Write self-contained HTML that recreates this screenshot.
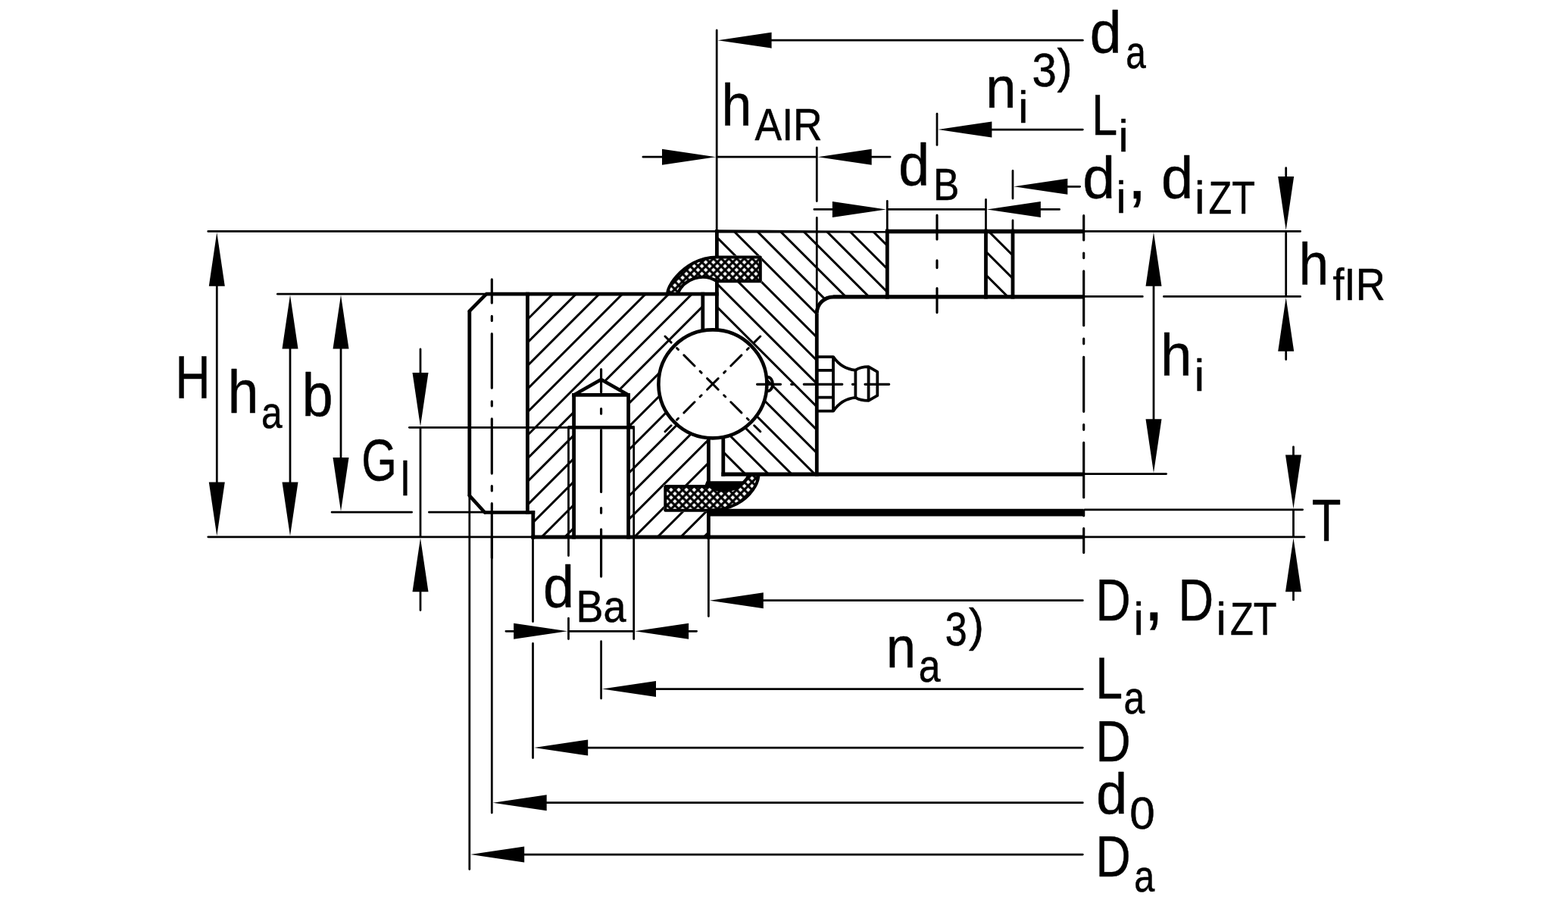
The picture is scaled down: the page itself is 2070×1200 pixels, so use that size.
<!DOCTYPE html>
<html lang="en">
<head>
<meta charset="utf-8">
<title>Slewing ring dimension drawing</title>
<style>
html,body{margin:0;padding:0;background:#fff;}
body{width:2070px;height:1200px;overflow:hidden;}
svg{display:block;}
svg *{stroke:#000;fill:none;}
svg .f{fill:#000;stroke:none;}
svg .w{fill:#fff;stroke:none;}
svg text,svg tspan{fill:#000;stroke:#000;stroke-width:0.5px;stroke-linejoin:round;font-family:"Liberation Sans",sans-serif;}
</style>
</head>
<body>
<svg xmlns="http://www.w3.org/2000/svg" width="2070" height="1200" viewBox="0 0 2070 1200">
<defs>
<clipPath id="co"><path d="M696.4 388.2H927.8V436.61A71.5 71.5 0 0 0 935.4 578.19V640H876.3V675.8H935.4V708.8H829.6V521.4L793.6 501L757.6 521.4V708.8H703.8V676.5H696.4Z"/></clipPath>
<clipPath id="ci"><path d="M946.4 305.4H1171.3V391.4H1100A21.7 21.7 0 0 0 1078.3 413.1V625.6H954.8V577.04A71.5 71.5 0 0 0 946.4 435.61V373H1005.8V337.5H946.4ZM1301.5 305.4H1337.0V391.4H1301.5Z"/></clipPath>
<pattern id="xh" width="7.2" height="7.2" patternUnits="userSpaceOnUse" patternTransform="rotate(45 0 0)"><rect class="f" x="0" y="0" width="7.2" height="7.2"/><rect class="w" x="1.55" y="1.55" width="4.1" height="4.1"/></pattern>
<clipPath id="cts"><rect x="860" y="320" width="160" height="68.2"/></clipPath>
<clipPath id="cbs"><rect x="860" y="625.6" width="160" height="70"/></clipPath>
</defs>
<g clip-path="url(#co)">
<path d="M615.60 380L280.60 715M646.20 380L311.20 715M676.80 380L341.80 715M707.40 380L372.40 715M738.00 380L403.00 715M768.60 380L433.60 715M799.20 380L464.20 715M829.80 380L494.80 715M860.40 380L525.40 715M891.00 380L556.00 715M921.60 380L586.60 715M952.20 380L617.20 715M982.80 380L647.80 715M1013.40 380L678.40 715M1044.00 380L709.00 715M1074.60 380L739.60 715M1105.20 380L770.20 715M1135.80 380L800.80 715M1166.40 380L831.40 715M1197.00 380L862.00 715M1227.60 380L892.60 715M1258.20 380L923.20 715M1288.80 380L953.80 715M1319.40 380L984.40 715" stroke-width="3.0"/>
</g>
<g clip-path="url(#ci)">
<path d="M596.94 300L926.94 630M627.50 300L957.50 630M658.06 300L988.06 630M688.62 300L1018.62 630M719.18 300L1049.18 630M749.74 300L1079.74 630M780.30 300L1110.30 630M810.86 300L1140.86 630M841.42 300L1171.42 630M871.98 300L1201.98 630M902.54 300L1232.54 630M933.10 300L1263.10 630M963.66 300L1293.66 630M994.22 300L1324.22 630M1024.78 300L1354.78 630M1055.34 300L1385.34 630M1085.90 300L1415.90 630M1116.46 300L1446.46 630M1147.02 300L1477.02 630M1177.58 300L1507.58 630M1208.14 300L1538.14 630M1238.70 300L1568.70 630M1269.26 300L1599.26 630M1299.82 300L1629.82 630M1330.38 300L1660.38 630M1360.94 300L1690.94 630M1391.50 300L1721.50 630" stroke-width="3.0"/>
</g>
<path d="M946.4 339.5C899.2 339.5 873.1 389.7 883.5 390L894.4 390V388A35.8 35.8 0 0 1 946.4 371.3H1003.8V339.5Z" clip-path="url(#cts)" style="fill:url(#xh)" stroke-width="4.0" stroke-linejoin="round"/>
<path d="M878.3 642V673.8H935.4C996.7 673.8 1009 619 997.5 623L989.5 623V625A35.8 35.8 0 0 1 937.4 642Z" clip-path="url(#cbs)" style="fill:url(#xh)" stroke-width="4.0" stroke-linejoin="round"/>
<path class="f" d="M930 642L932.5 635.2H983.2A35.8 35.8 0 0 1 937.4 642Z"/>
<g stroke-width="4.6" stroke-linejoin="round" stroke-linecap="round">
<path d="M642 388.2L619.8 410.6M619.8 654.4L640 676.5"/>
<path d="M757.6 521.4L793.6 501L829.6 521.4"/>
<path d="M1100 391.9A21.7 21.7 0 0 0 1078.3 413.6" stroke-width="5" stroke-linecap="butt"/>
<circle cx="940.9" cy="506.9" r="71.5"/>
</g>
<path d="M642.00 388.20H948.80" stroke-width="4.8" stroke-linecap="butt"/>
<path d="M640.00 676.50H706.20" stroke-width="4.3" stroke-linecap="butt"/>
<path d="M701.40 708.95H1430.70" stroke-width="4.9" stroke-linecap="butt"/>
<path d="M1168.90 305.55H1430.70" stroke-width="5.4" stroke-linecap="butt"/>
<path d="M1100.00 391.90H1430.70" stroke-width="5.2" stroke-linecap="butt"/>
<path d="M952.40 626.15H1430.70" stroke-width="5.3" stroke-linecap="butt"/>
<path d="M755.20 521.40H832.00" stroke-width="4.6" stroke-linecap="butt"/>
<path d="M749.50 564.30H837.70" stroke-width="4.6" stroke-linecap="butt"/>
<path d="M619.80 410.60V654.40M696.40 385.80V678.65M703.80 674.35V711.40M927.80 385.80V437.61M935.40 577.19V642.00M935.40 673.80V711.40M757.60 519.10V711.40M829.60 519.10V711.40M946.40 303.20V339.50M946.40 371.30V436.61M954.80 576.04V628.80M1078.30 413.60V628.80M1171.30 302.85V394.50M1301.50 302.85V394.50M1337.00 302.85V394.50" stroke-width="4.8" stroke-linecap="butt"/>
<path class="f" d="M944.0 303.2L1171.3 305.0V307.6H944.0Z"/>
<g stroke-linecap="butt">
<path d="M935.4 674.05H1430.7M935.4 678.95H1430.7" stroke-width="4.85"/>
</g>
<g stroke-width="3.8" stroke-linejoin="round" stroke-linecap="butt">
<path d="M1078.3 471.1H1100.05V542.6H1078.3M1079 488.8H1100M1079 524.6H1100"/>
<path d="M1100.05 471.1C1107 481 1116 487.5 1129.4 488.6C1134 485.5 1140 484.2 1146.6 484.2L1158.3 490.8V522.2L1146.6 528.9C1140 528.9 1134 527.6 1129.4 524.8C1116 526 1107 532.5 1100.05 542.6"/>
<path d="M1129.4 488.6V524.8M1146.6 484.2V528.9"/>
<path d="M1013.3 497.6A6.7 9.4 0 0 1 1013.3 516.4"/>
</g>
<g stroke-width="2.75" stroke-linecap="round">
<path d="M750.5 564.3V708.8M836.7 564.3V708.8"/>
</g>
<path d="M940.90 506.90L948.20 514.20M955.70 521.70L957.70 523.70M964.80 530.80L978.90 544.90M986.30 552.30L988.30 554.30M995.70 561.70L1003.80 569.80M940.90 506.90L948.20 499.60M955.70 492.10L957.70 490.10M964.80 483.00L978.90 468.90M986.30 461.50L988.30 459.50M995.70 452.10L1003.80 444.00M940.90 506.90L933.60 514.20M926.10 521.70L924.10 523.70M917.00 530.80L902.90 544.90M895.50 552.30L893.50 554.30M886.10 561.70L878.00 569.80M940.90 506.90L933.60 499.60M926.10 492.10L924.10 490.10M917.00 483.00L902.90 468.90M895.50 461.50L893.50 459.50M886.10 452.10L878.00 444.00" stroke-width="2.95" stroke-linecap="round"/>
<path d="M999.58 507.30H1030.52M1044.67 507.30H1047.02M1061.28 507.30H1111.83M1125.48 507.30H1126.92M1141.98 507.30H1173.72" stroke-width="3.15" stroke-linecap="round"/>
<path d="M1430.70 284.68V317.03M1430.70 333.97V340.62M1430.70 357.88V429.73M1430.70 447.18V453.82M1430.70 471.27V543.32M1430.70 560.58V567.32M1430.70 584.38V656.72M1430.70 674.18V680.82M1430.70 697.48V729.62" stroke-width="3.15" stroke-linecap="round"/>
<path d="M649.30 368.88V400.03M649.30 417.38V423.53M649.30 440.68V512.22M649.30 529.88V535.92M649.30 552.88V625.12M649.30 641.48V647.92M649.30 664.68V736.42" stroke-width="3.15" stroke-linecap="round"/>
<path d="M649.30 710.17V1073.12" stroke-width="2.75" stroke-linecap="round"/>
<path d="M793.60 487.57V518.12M793.60 539.58V546.22M793.60 567.58V649.42M793.60 670.58V677.22M793.60 698.78V761.12" stroke-width="3.15" stroke-linecap="round"/>
<path d="M793.60 846.67V922.12" stroke-width="2.75" stroke-linecap="round"/>
<path d="M1237.00 150.18V191.43" stroke-width="2.75" stroke-linecap="round"/>
<path d="M1237.00 284.18V316.03M1237.00 343.88V353.62M1237.00 380.57V412.62" stroke-width="3.15" stroke-linecap="round"/>
<path d="M274.77 305.40H945.02M1432.08 305.40H1716.62" stroke-width="2.75" stroke-linecap="round"/>
<path d="M366.38 388.20H639.62" stroke-width="2.75" stroke-linecap="round"/>
<path d="M1432.08 391.40H1508.33M1536.38 391.40H1716.62" stroke-width="2.75" stroke-linecap="round"/>
<path d="M540.38 564.30H749.12" stroke-width="2.75" stroke-linecap="round"/>
<path d="M1432.08 625.60H1539.62" stroke-width="2.75" stroke-linecap="round"/>
<path d="M1432.08 672.80H1719.62" stroke-width="2.75" stroke-linecap="round"/>
<path d="M438.07 676.20H543.62M566.38 676.20H638.62" stroke-width="2.75" stroke-linecap="round"/>
<path d="M274.77 708.80H702.42M1432.08 708.80H1722.03" stroke-width="2.75" stroke-linecap="round"/>
<path d="M946.20 39.88V304.02" stroke-width="2.75" stroke-linecap="round"/>
<path d="M1078.30 194.78V265.62M1078.30 287.38V412.62" stroke-width="2.75" stroke-linecap="round"/>
<path d="M1171.30 265.38V304.02" stroke-width="2.75" stroke-linecap="round"/>
<path d="M1301.50 263.38V304.02" stroke-width="2.75" stroke-linecap="round"/>
<path d="M1337.00 225.38V262.12M1337.00 290.88V304.02" stroke-width="2.75" stroke-linecap="round"/>
<path d="M619.80 655.38V1147.62" stroke-width="2.75" stroke-linecap="round"/>
<path d="M703.50 710.17V820.62M703.50 849.38V1000.62" stroke-width="2.75" stroke-linecap="round"/>
<path d="M750.50 710.17V733.62M750.50 749.38V797.62M750.50 816.17V843.62" stroke-width="2.75" stroke-linecap="round"/>
<path d="M836.70 710.17V843.62" stroke-width="2.75" stroke-linecap="round"/>
<path d="M935.40 710.17V813.62" stroke-width="2.75" stroke-linecap="round"/>
<path d="M1015.98 53.20H1429.33" stroke-width="2.75" stroke-linecap="round"/>
<polygon class="f" points="947.60,53.20 1018.60,42.70 1018.60,63.70"/>
<path d="M848.88 207.20H876.62M947.27 207.20H1077.42M1148.08 207.20H1175.12" stroke-width="2.75" stroke-linecap="round"/>
<polygon class="f" points="945.00,207.20 874.00,196.70 874.00,217.70"/>
<polygon class="f" points="1079.70,207.20 1150.70,196.70 1150.70,217.70"/>
<path d="M1306.78 171.00H1429.33" stroke-width="2.75" stroke-linecap="round"/>
<polygon class="f" points="1238.40,171.00 1309.40,160.50 1309.40,181.50"/>
<path d="M1074.88 276.40H1101.52M1172.17 276.40H1300.62M1371.28 276.40H1398.62" stroke-width="2.75" stroke-linecap="round"/>
<polygon class="f" points="1169.90,276.40 1098.90,265.90 1098.90,286.90"/>
<polygon class="f" points="1302.90,276.40 1373.90,265.90 1373.90,286.90"/>
<path d="M1406.78 246.30H1425.62" stroke-width="2.75" stroke-linecap="round"/>
<polygon class="f" points="1338.40,246.30 1409.40,235.80 1409.40,256.80"/>
<path d="M1005.17 792.70H1429.33" stroke-width="2.75" stroke-linecap="round"/>
<polygon class="f" points="936.80,792.70 1007.80,782.20 1007.80,803.20"/>
<path d="M667.88 833.30H680.73M751.38 833.30H835.83M906.48 833.30H919.62" stroke-width="2.75" stroke-linecap="round"/>
<polygon class="f" points="749.10,833.30 678.10,822.80 678.10,843.80"/>
<polygon class="f" points="838.10,833.30 909.10,822.80 909.10,843.80"/>
<path d="M863.38 909.50H1429.33" stroke-width="2.75" stroke-linecap="round"/>
<polygon class="f" points="795.00,909.50 866.00,899.00 866.00,920.00"/>
<path d="M773.57 987.00H1429.33" stroke-width="2.75" stroke-linecap="round"/>
<polygon class="f" points="705.20,987.00 776.20,976.50 776.20,997.50"/>
<path d="M719.07 1059.70H1429.33" stroke-width="2.75" stroke-linecap="round"/>
<polygon class="f" points="650.70,1059.70 721.70,1049.20 721.70,1070.20"/>
<path d="M689.57 1128.00H1429.33" stroke-width="2.75" stroke-linecap="round"/>
<polygon class="f" points="621.20,1128.00 692.20,1117.50 692.20,1138.50"/>
<path d="M286.30 375.17V639.02" stroke-width="2.75" stroke-linecap="round"/>
<polygon class="f" points="286.30,306.80 275.80,377.80 296.80,377.80"/>
<polygon class="f" points="286.30,707.40 275.80,636.40 296.80,636.40"/>
<path d="M383.00 457.97V639.02" stroke-width="2.75" stroke-linecap="round"/>
<polygon class="f" points="383.00,389.60 372.50,460.60 393.50,460.60"/>
<polygon class="f" points="383.00,707.40 372.50,636.40 393.50,636.40"/>
<path d="M450.00 457.97V606.73" stroke-width="2.75" stroke-linecap="round"/>
<polygon class="f" points="450.00,389.60 439.50,460.60 460.50,460.60"/>
<polygon class="f" points="450.00,675.10 439.50,604.10 460.50,604.10"/>
<path d="M555.00 460.88V494.52M555.00 565.17V707.92M555.00 778.57V805.62" stroke-width="2.75" stroke-linecap="round"/>
<polygon class="f" points="555.00,562.90 544.50,491.90 565.50,491.90"/>
<polygon class="f" points="555.00,710.20 544.50,781.20 565.50,781.20"/>
<path d="M1523.00 375.17V555.83" stroke-width="2.75" stroke-linecap="round"/>
<polygon class="f" points="1523.00,306.80 1512.50,377.80 1533.50,377.80"/>
<polygon class="f" points="1523.00,624.20 1512.50,553.20 1533.50,553.20"/>
<path d="M1697.70 221.68V235.62M1697.70 306.27V390.52M1697.70 461.17V474.62" stroke-width="2.75" stroke-linecap="round"/>
<polygon class="f" points="1697.70,304.00 1687.20,233.00 1708.20,233.00"/>
<polygon class="f" points="1697.70,392.80 1687.20,463.80 1708.20,463.80"/>
<path d="M1707.50 589.88V603.02M1707.50 673.67V707.92M1707.50 778.57V791.92" stroke-width="2.75" stroke-linecap="round"/>
<polygon class="f" points="1707.50,671.40 1697.00,600.40 1718.00,600.40"/>
<polygon class="f" points="1707.50,710.20 1697.00,781.20 1718.00,781.20"/>
<text><tspan x="1438.74" y="70.00" font-size="77.59" textLength="41.81" lengthAdjust="spacingAndGlyphs">d</tspan><tspan x="1486.17" y="90.00" font-size="60.93" textLength="26.58" lengthAdjust="spacingAndGlyphs">a</tspan></text>
<text><tspan x="1301.14" y="142.00" font-size="75.81" textLength="40.23" lengthAdjust="spacingAndGlyphs">n</tspan><tspan x="1344.26" y="162.00" font-size="58.97" textLength="13.10" lengthAdjust="spacingAndGlyphs">i</tspan><tspan x="1362.45" y="113.50" font-size="62.29" textLength="32.36" lengthAdjust="spacingAndGlyphs">3</tspan><tspan x="1395.54" y="108.77" font-size="62.09" textLength="20.18" lengthAdjust="spacingAndGlyphs">)</tspan></text>
<text><tspan x="952.38" y="166.40" font-size="77.45" textLength="39.96" lengthAdjust="spacingAndGlyphs">h</tspan><tspan x="996.52" y="185.30" font-size="60.15" textLength="89.14" lengthAdjust="spacingAndGlyphs">AIR</tspan></text>
<text><tspan x="1186.30" y="245.00" font-size="77.59" textLength="40.84" lengthAdjust="spacingAndGlyphs">d</tspan><tspan x="1232.09" y="263.80" font-size="59.71" textLength="34.37" lengthAdjust="spacingAndGlyphs">B</tspan></text>
<text><tspan x="1441.33" y="178.00" font-size="76.73" textLength="33.87" lengthAdjust="spacingAndGlyphs">L</tspan><tspan x="1476.44" y="199.50" font-size="59.66" textLength="13.25" lengthAdjust="spacingAndGlyphs">i</tspan></text>
<text><tspan x="1429.16" y="262.00" font-size="77.59" textLength="42.90" lengthAdjust="spacingAndGlyphs">d</tspan><tspan x="1473.48" y="280.70" font-size="59.24" textLength="13.16" lengthAdjust="spacingAndGlyphs">i</tspan><tspan x="1488.55" y="262.00" font-size="90.70" textLength="25.20" lengthAdjust="spacingAndGlyphs">,</tspan> <tspan x="1532.91" y="262.00" font-size="77.59" textLength="42.17" lengthAdjust="spacingAndGlyphs">d</tspan><tspan x="1576.95" y="282.40" font-size="60.90" textLength="13.53" lengthAdjust="spacingAndGlyphs">i</tspan><tspan x="1595.40" y="282.40" font-size="60.58" textLength="61.49" lengthAdjust="spacingAndGlyphs">ZT</tspan></text>
<text><tspan x="1714.75" y="375.70" font-size="77.86" textLength="39.32" lengthAdjust="spacingAndGlyphs">h</tspan><tspan x="1759.55" y="396.00" font-size="59.86" textLength="69.18" lengthAdjust="spacingAndGlyphs">fIR</tspan></text>
<text><tspan x="1531.90" y="496.40" font-size="77.45" textLength="41.51" lengthAdjust="spacingAndGlyphs">h</tspan><tspan x="1576.66" y="515.70" font-size="59.93" textLength="13.32" lengthAdjust="spacingAndGlyphs">i</tspan></text>
<text><tspan x="1731.84" y="713.90" font-size="78.33" textLength="38.68" lengthAdjust="spacingAndGlyphs">T</tspan></text>
<text><tspan x="1446.38" y="818.70" font-size="78.33" textLength="46.23" lengthAdjust="spacingAndGlyphs">D</tspan><tspan x="1496.51" y="838.00" font-size="60.34" textLength="13.41" lengthAdjust="spacingAndGlyphs">i</tspan><tspan x="1509.64" y="818.70" font-size="97.21" textLength="27.01" lengthAdjust="spacingAndGlyphs">,</tspan> <tspan x="1555.43" y="818.70" font-size="78.33" textLength="46.71" lengthAdjust="spacingAndGlyphs">D</tspan><tspan x="1605.51" y="838.00" font-size="60.34" textLength="13.41" lengthAdjust="spacingAndGlyphs">i</tspan><tspan x="1623.89" y="838.00" font-size="61.45" textLength="61.60" lengthAdjust="spacingAndGlyphs">ZT</tspan></text>
<text><tspan x="1169.88" y="881.30" font-size="75.44" textLength="38.95" lengthAdjust="spacingAndGlyphs">n</tspan><tspan x="1212.71" y="899.90" font-size="60.74" textLength="28.81" lengthAdjust="spacingAndGlyphs">a</tspan><tspan x="1247.85" y="851.70" font-size="63.15" textLength="29.02" lengthAdjust="spacingAndGlyphs">3</tspan><tspan x="1279.05" y="845.79" font-size="61.02" textLength="20.05" lengthAdjust="spacingAndGlyphs">)</tspan></text>
<text><tspan x="1446.35" y="922.40" font-size="77.75" textLength="35.85" lengthAdjust="spacingAndGlyphs">L</tspan><tspan x="1483.58" y="942.00" font-size="60.93" textLength="27.74" lengthAdjust="spacingAndGlyphs">a</tspan></text>
<text><tspan x="1446.39" y="1004.60" font-size="75.85" textLength="46.22" lengthAdjust="spacingAndGlyphs">D</tspan></text>
<text><tspan x="1447.29" y="1073.90" font-size="76.76" textLength="40.95" lengthAdjust="spacingAndGlyphs">d</tspan><tspan x="1491.30" y="1093.50" font-size="59.14" textLength="33.48" lengthAdjust="spacingAndGlyphs">0</tspan></text>
<text><tspan x="1446.39" y="1156.50" font-size="76.87" textLength="46.22" lengthAdjust="spacingAndGlyphs">D</tspan><tspan x="1497.14" y="1177.40" font-size="59.81" textLength="26.99" lengthAdjust="spacingAndGlyphs">a</tspan></text>
<text><tspan x="231.61" y="524.80" font-size="78.91" textLength="45.96" lengthAdjust="spacingAndGlyphs">H</tspan></text>
<text><tspan x="300.80" y="544.60" font-size="79.10" textLength="40.62" lengthAdjust="spacingAndGlyphs">h</tspan><tspan x="345.10" y="564.80" font-size="59.63" textLength="27.63" lengthAdjust="spacingAndGlyphs">a</tspan></text>
<text><tspan x="398.64" y="548.90" font-size="78.97" textLength="40.85" lengthAdjust="spacingAndGlyphs">b</tspan></text>
<text><tspan x="477.20" y="634.40" font-size="78.64" textLength="46.58" lengthAdjust="spacingAndGlyphs">G</tspan><tspan x="529.07" y="653.70" font-size="62.69" textLength="11.84" lengthAdjust="spacingAndGlyphs">l</tspan></text>
<text><tspan x="716.89" y="801.80" font-size="78.00" textLength="40.96" lengthAdjust="spacingAndGlyphs">d</tspan><tspan x="760.51" y="821.00" font-size="59.27" textLength="65.96" lengthAdjust="spacingAndGlyphs">Ba</tspan></text>
</svg>
</body>
</html>
